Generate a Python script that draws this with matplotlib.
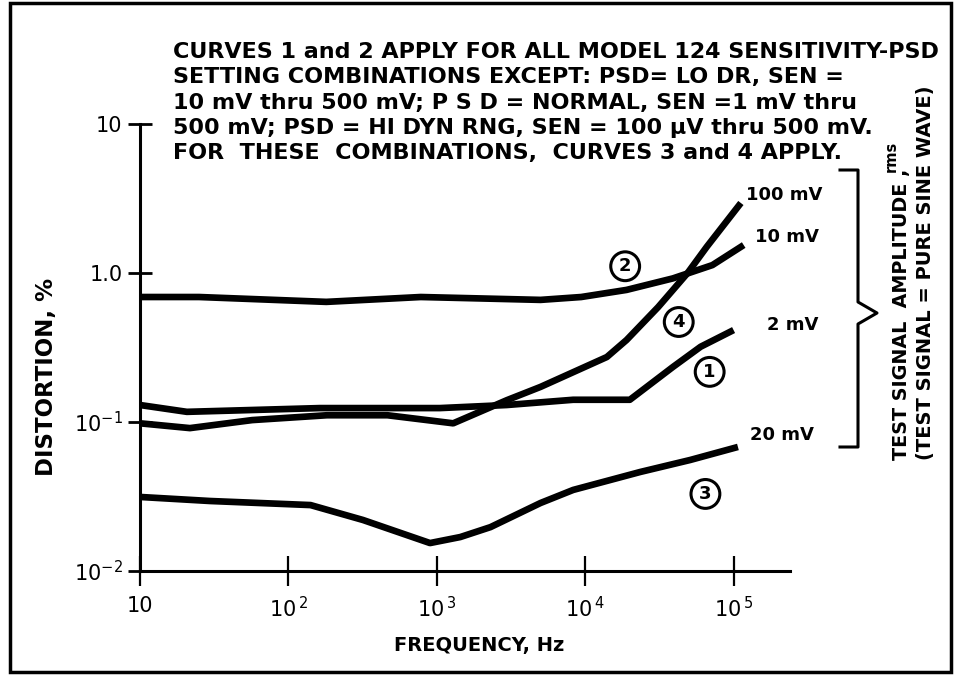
import matplotlib
matplotlib.use("Agg")
import matplotlib.pyplot as plt
from matplotlib.lines import Line2D
from matplotlib.patches import Rectangle
from matplotlib.ticker import FixedLocator, FixedFormatter, NullLocator

plt.rcParams['font.family'] = ['DejaVu Sans']
plt.rcParams['mathtext.fontset'] = 'dejavusans'

# Curve data (frequency in Hz, distortion in %)
freq_1 = [10, 20.7, 163, 1050, 2960, 8300, 20000, 39000, 60000, 100000]
dist_1 = [0.130, 0.117, 0.124, 0.124, 0.130, 0.141, 0.141, 0.234, 0.32, 0.414]

freq_2 = [10, 25, 180, 780, 5000, 9400, 19000, 39000, 72000, 117000]
dist_2 = [0.69, 0.69, 0.64, 0.69, 0.66, 0.69, 0.77, 0.92, 1.13, 1.54]

freq_3 = [10, 29.6, 141, 318, 900, 1440, 2300, 5000, 8300, 23500, 51000, 107000]
dist_3 = [0.0314, 0.0295, 0.0277, 0.0220, 0.0154, 0.0169, 0.0197, 0.0286, 0.035, 0.0462, 0.0556, 0.068]

freq_4 = [10, 21.7, 57, 182, 465, 1290, 2960, 5000, 14000, 19000, 31000, 49000, 66000, 112000]
dist_4 = [0.098, 0.091, 0.103, 0.111, 0.111, 0.098, 0.14, 0.172, 0.273, 0.355, 0.59, 1.0, 1.5, 2.95]

x_ticks = [10, 1e2, 1e3, 1e4, 1e5]
x_tick_labels = ["10", "$10^{\\,2}$", "$10^{\\,3}$", "$10^{\\,4}$", "$10^{\\,5}$"]
y_ticks = [0.01, 0.1, 1.0, 10]
y_tick_labels = ["$10^{-2}$", "$10^{-1}$", "1.0", "10"]

# circled curve numbers and amplitude labels (freq, dist)
curve_ids = ["1", "2", "3", "4"]
curve_id_pos = [(69000, 0.217), (18600, 1.11), (64600, 0.0329), (42700, 0.469)]
amp_labels = ["100 mV", "10 mV", "2 mV", "20 mV"]
amp_label_pos = [(122000, 3.33), (140000, 1.75), (169000, 0.448), (130000, 0.0819)]

note_lines = [
    "CURVES 1 and 2 APPLY FOR ALL MODEL 124 SENSITIVITY-PSD",
    "SETTING COMBINATIONS EXCEPT: PSD= LO DR, SEN =",
    "10 mV thru 500 mV; P S D = NORMAL, SEN =1 mV thru",
    "500 mV; PSD = HI DYN RNG, SEN = 100 \u00b5V thru 500 mV.",
    "FOR  THESE  COMBINATIONS,  CURVES 3 and 4 APPLY.",
]

W, H = 958, 679


def fx(px):
    return px / W


def fy(py):
    return 1 - py / H


fig = plt.figure(figsize=(W / 100, H / 100), dpi=100)
ax = fig.add_axes([fx(140), fy(571), (790 - 140) / W, (571 - 124) / H])

for f, d in [(freq_1, dist_1), (freq_2, dist_2), (freq_3, dist_3), (freq_4, dist_4)]:
    ax.plot(f, d, color="black", lw=4.8, solid_joinstyle="round", solid_capstyle="butt")

ax.set_xscale("log")
ax.set_yscale("log")
ax.set_xlim(10, 2.4e5)
ax.set_ylim(0.01, 10)

ax.xaxis.set_major_locator(FixedLocator(x_ticks))
ax.xaxis.set_major_formatter(FixedFormatter(x_tick_labels))
ax.yaxis.set_major_locator(FixedLocator(y_ticks))
ax.yaxis.set_major_formatter(FixedFormatter(y_tick_labels))
ax.xaxis.set_minor_locator(NullLocator())
ax.yaxis.set_minor_locator(NullLocator())

for side in ["top", "right"]:
    ax.spines[side].set_visible(False)
for side in ["left", "bottom"]:
    ax.spines[side].set_linewidth(2.2)

ax.tick_params(axis="x", direction="inout", length=22, width=1.6, pad=7, labelsize=15)
ax.tick_params(axis="y", direction="inout", length=17, width=2.0, pad=4, labelsize=15)
ax.patch.set_alpha(0)

for cid, (x, y) in zip(curve_ids, curve_id_pos):
    ax.text(x, y, cid, ha="center", va="center", fontsize=13, fontweight="bold",
            bbox=dict(boxstyle="circle,pad=0.3", fc="white", ec="black", lw=2.2))

for lab, (x, y) in zip(amp_labels, amp_label_pos):
    ax.text(x, y, lab, ha="left", va="center", fontsize=13, fontweight="bold")

# axis titles
fig.text(fx(47), fy(377), "DISTORTION, %", rotation=90, ha="center", va="center",
         fontsize=16.5, fontweight="bold")
fig.text(fx(479), fy(645), "FREQUENCY, Hz", ha="center", va="center",
         fontsize=14, fontweight="bold")

# note block
for i, line in enumerate(note_lines):
    fig.text(fx(173), fy(52 + i * 25.3), line, ha="left", va="center",
             fontsize=16, fontweight="bold")

# bracket
bx = [840, 858, 858, 877, 858, 858, 840]
by = [170, 170, 302, 313, 324, 447, 447]
fig.add_artist(Line2D([fx(v) for v in bx], [fy(v) for v in by], color="black", lw=2.2,
                      transform=fig.transFigure))

fig.text(fx(902), fy(460), "TEST SIGNAL  AMPLITUDE ,", rotation=90, rotation_mode="anchor",
         ha="left", va="center", fontsize=13.8, fontweight="bold")
fig.text(fx(891), fy(172), "rms", rotation=90, rotation_mode="anchor",
         ha="left", va="center", fontsize=10.5, fontweight="bold")
fig.text(fx(926), fy(460), "(TEST SIGNAL = PURE SINE WAVE)", rotation=90, rotation_mode="anchor",
         ha="left", va="center", fontsize=14, fontweight="bold")

# outer frame
fig.add_artist(Rectangle((fx(10), fy(672)), fx(951) - fx(10), fy(3) - fy(672), fill=False,
                         ec="black", lw=2.5, transform=fig.transFigure))

fig.savefig("out.png", dpi=100)
